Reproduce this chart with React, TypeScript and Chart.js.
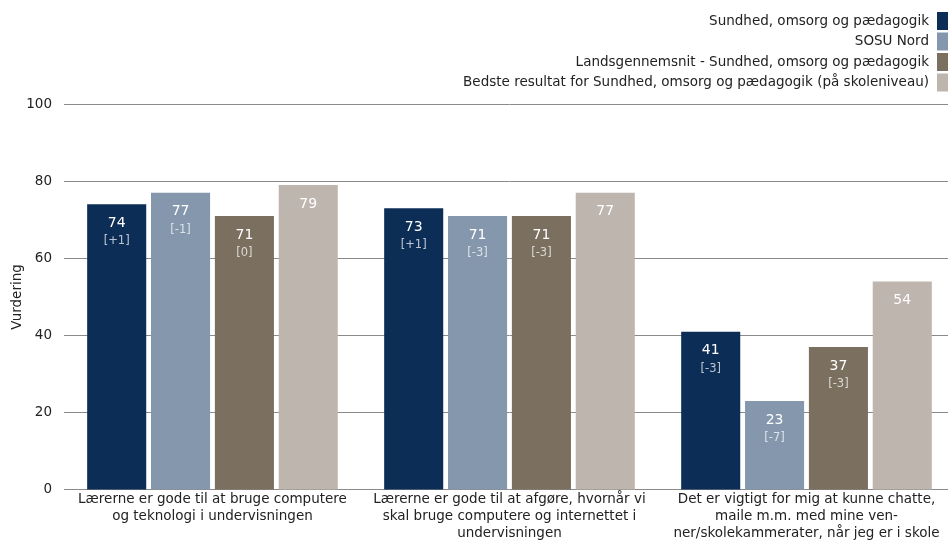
import React, { useEffect, useRef } from "react";
import { Chart, registerables } from "chart.js";

Chart.register(...registerables);

const categories: string[][] = [
  ["Lærerne er gode til at bruge computere", "og teknologi i undervisningen"],
  ["Lærerne er gode til at afgøre, hvornår vi", "skal bruge computere og internettet i", "undervisningen"],
  ["Det er vigtigt for mig at kunne chatte,", "maile m.m. med mine ven-", "ner/skolekammerater, når jeg er i skole"],
];

const seriesNames = [
  "Sundhed, omsorg og pædagogik",
  "SOSU Nord",
  "Landsgennemsnit - Sundhed, omsorg og pædagogik",
  "Bedste resultat for Sundhed, omsorg og pædagogik (på skoleniveau)",
];

const sundhedValues = [74, 73, 41];
const sosuValues = [77, 71, 23];
const landsValues = [71, 71, 37];
const bedsteValues = [79, 77, 54];

const sundhedDiffs = ["[+1]", "[+1]", "[-3]"];
const sosuDiffs = ["[-1]", "[-3]", "[-7]"];
const landsDiffs = ["[0]", "[-3]", "[-3]"];
const bedsteDiffs = ["", "", ""];

const colors = ["#0c2e56", "#8497ad", "#7b6f5f", "#bdb5ae"];

const yTicks = [0, 20, 40, 60, 80, 100];

const FONT = "'DejaVu Sans', sans-serif";
const CANVAS_W = 955;

const valueLabelPlugin = {
  id: "valueLabels",
  afterDatasetsDraw(chart: any) {
    const ctx = chart.ctx;
    ctx.save();
    ctx.textAlign = "center";
    ctx.textBaseline = "middle";
    chart.data.datasets.forEach((ds: any, i: number) => {
      const meta = chart.getDatasetMeta(i);
      meta.data.forEach((el: any, j: number) => {
        ctx.font = `14px ${FONT}`;
        ctx.fillStyle = "#ffffff";
        ctx.fillText(String(ds.data[j]), el.x, el.y + 19);
        const d = ds.diffs[j];
        if (d) {
          ctx.font = `11.5px ${FONT}`;
          ctx.fillStyle = "rgba(255,255,255,0.72)";
          ctx.fillText(d, el.x, el.y + 37);
        }
      });
    });
    ctx.restore();
  },
};

const legendPlugin = {
  id: "rightLegend",
  afterDraw(chart: any) {
    const ctx = chart.ctx;
    ctx.save();
    ctx.font = `13.5px ${FONT}`;
    ctx.textAlign = "right";
    ctx.textBaseline = "middle";
    chart.data.datasets.forEach((ds: any, i: number) => {
      const cy = 21 + i * 20.5;
      ctx.fillStyle = ds.backgroundColor;
      ctx.fillRect(937, cy - 9, 18, 18);
      ctx.fillStyle = "#222222";
      ctx.fillText(ds.label, 929, cy);
    });
    ctx.restore();
  },
};

export default function App() {
  const ref = useRef<HTMLCanvasElement>(null);
  useEffect(() => {
    document.body.style.margin = "0";
    const allValues = [sundhedValues, sosuValues, landsValues, bedsteValues];
    const allDiffs = [sundhedDiffs, sosuDiffs, landsDiffs, bedsteDiffs];
    const chart = new Chart(ref.current!, {
      type: "bar",
      data: {
        labels: categories,
        datasets: seriesNames.map((name, i) => ({
          label: name,
          data: allValues[i],
          diffs: allDiffs[i],
          backgroundColor: colors[i],
          borderWidth: 0,
          categoryPercentage: 0.86,
          barPercentage: 0.925,
        })) as any,
      },
      options: {
        animation: false,
        responsive: false,
        maintainAspectRatio: false,
        layout: { padding: { top: 104, right: 0, left: 9, bottom: 6.5 } },
        plugins: {
          legend: { display: false },
          tooltip: { enabled: false },
        },
        scales: {
          x: {
            grid: { display: false, drawTicks: false },
            border: { display: false },
            ticks: {
              color: "#222222",
              font: { family: FONT, size: 13.5, lineHeight: 1.25 },
              padding: 1,
              maxRotation: 0,
              autoSkip: false,
            },
          },
          y: {
            min: 0,
            max: 100,
            afterBuildTicks: (axis: any) => {
              axis.ticks = yTicks.map((v) => ({ value: v }));
            },
            grid: { color: "#8a8a8a", drawTicks: false, lineWidth: 1 },
            border: { display: false },
            ticks: {
              color: "#222222",
              font: { family: FONT, size: 13.5 },
              padding: 12,
            },
            title: {
              display: true,
              text: "Vurdering",
              color: "#222222",
              font: { family: FONT, size: 13.5 },
              padding: { top: 0, bottom: -11 },
            },
          },
        },
      },
      plugins: [valueLabelPlugin, legendPlugin],
    });
    return () => chart.destroy();
  }, []);
  return (
    <div style={{ position: "absolute", left: 0, top: 0, width: 948, height: 549, overflow: "hidden" }}>
      <canvas
        ref={ref}
        width={CANVAS_W}
        height={549}
        style={{ width: CANVAS_W, height: 549, display: "block" }}
      />
    </div>
  );
}
